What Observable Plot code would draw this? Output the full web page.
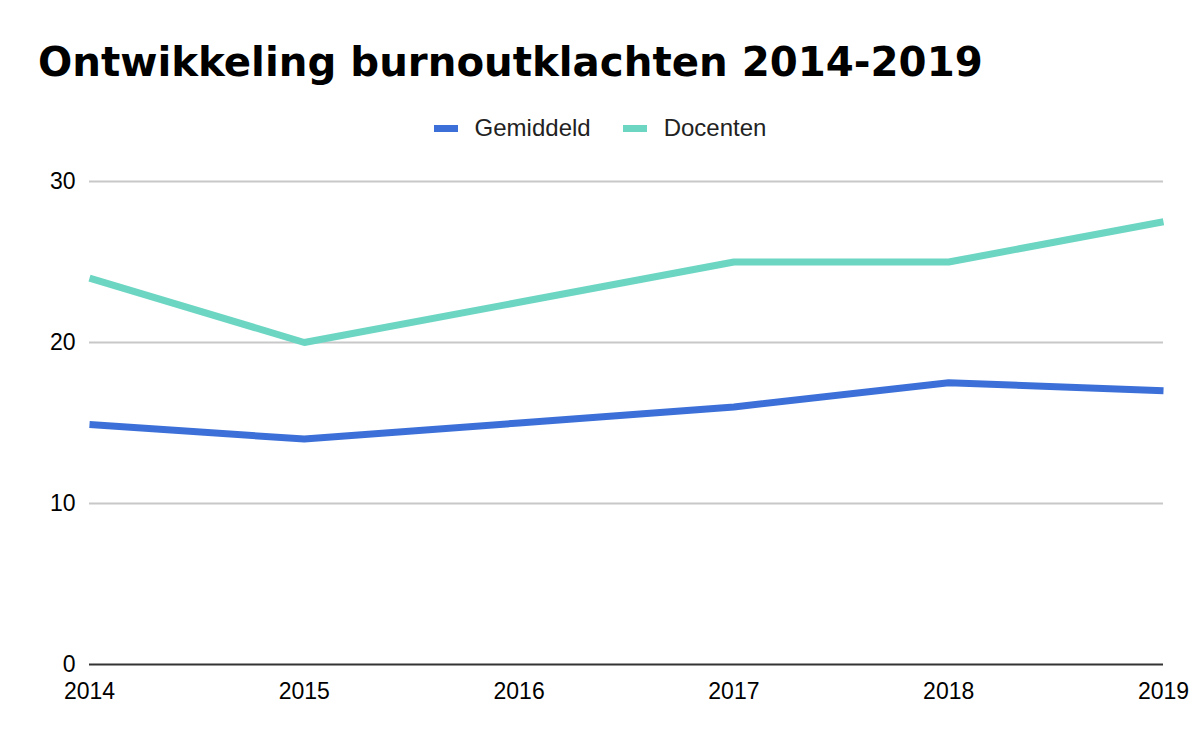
<!DOCTYPE html>
<html>
<head>
<meta charset="utf-8">
<script src="https://cdn.jsdelivr.net/npm/d3@7"></script>
<script src="https://cdn.jsdelivr.net/npm/@observablehq/plot@0.6"></script>
<style>
  html, body { margin: 0; padding: 0; background: #fff; }
  #wrap { position: relative; width: 1200px; height: 742px; overflow: hidden; }
  #title { position: absolute; left: 38px; top: 43px; font-family: "DejaVu Sans", sans-serif; font-weight: bold; font-size: 40.3px; color: #000; white-space: nowrap; line-height: 1; }
  #legend { position: absolute; left: 0; width: 1200px; top: 114px; display: flex; justify-content: center; font-family: "Liberation Sans", Arial, sans-serif; font-size: 24px; color: #222; line-height: 28px; }
  .item { display: flex; align-items: center; margin: 0 16px; }
  .sw { width: 24px; height: 7px; margin-right: 17px; }
  #chart { position: absolute; left: 0; top: 150px; }
</style>
</head>
<body>
<div id="wrap">
  <div id="title">Ontwikkeling burnoutklachten 2014-2019</div>
  <div id="legend"></div>
  <div id="chart"></div>
</div>
<script>
const years = [2014, 2015, 2016, 2017, 2018, 2019];
const gemiddeld = [14.9, 14.0, 15.0, 16.0, 17.5, 17.0];
const docenten = [24.0, 20.0, 22.5, 25.0, 25.0, 27.5];
const seriesNames = ["Gemiddeld", "Docenten"];
const seriesColors = ["#3c70d8", "#6cd6c3"];
const yTicks = [0, 10, 20, 30];

const rows = [];
years.forEach((yr, i) => {
  rows.push({ year: yr, value: gemiddeld[i], series: seriesNames[0] });
  rows.push({ year: yr, value: docenten[i], series: seriesNames[1] });
});

// legend above the plot
const legend = document.getElementById("legend");
seriesNames.forEach((name, i) => {
  const it = document.createElement("div");
  it.className = "item";
  it.innerHTML = `<span class="sw" style="background:${seriesColors[i]}"></span><span>${name}</span>`;
  legend.appendChild(it);
});

const chart = Plot.plot({
  width: 1200,
  height: 592,
  marginLeft: 89,
  marginRight: 37,
  marginTop: 31,
  marginBottom: 78,
  style: { fontFamily: "Liberation Sans, Arial, sans-serif", fontSize: "23px", color: "#000", background: "#fff" },
  x: { domain: [2014, 2019], label: null },
  y: { domain: [0, 30], label: null },
  color: { domain: seriesNames, range: seriesColors },
  marks: [
    Plot.gridY(yTicks.filter(d => d > 0), { stroke: "#c8c8c8", strokeOpacity: 1, strokeWidth: 2 }),
    Plot.ruleY([0], { stroke: "#333", strokeWidth: 2 }),
    Plot.line(rows, { x: "year", y: "value", z: "series", stroke: "series", strokeWidth: 7, strokeLinejoin: "miter", strokeLinecap: "butt" }),
    Plot.axisX({ ticks: years, tickFormat: "d", tickSize: 0, tickPadding: 18, fill: "#000", fontSize: 23 }),
    Plot.axisY({ ticks: yTicks, tickSize: 0, tickPadding: 14, fill: "#000", fontSize: 23 })
  ]
});
document.getElementById("chart").appendChild(chart);
</script>
</body>
</html>
